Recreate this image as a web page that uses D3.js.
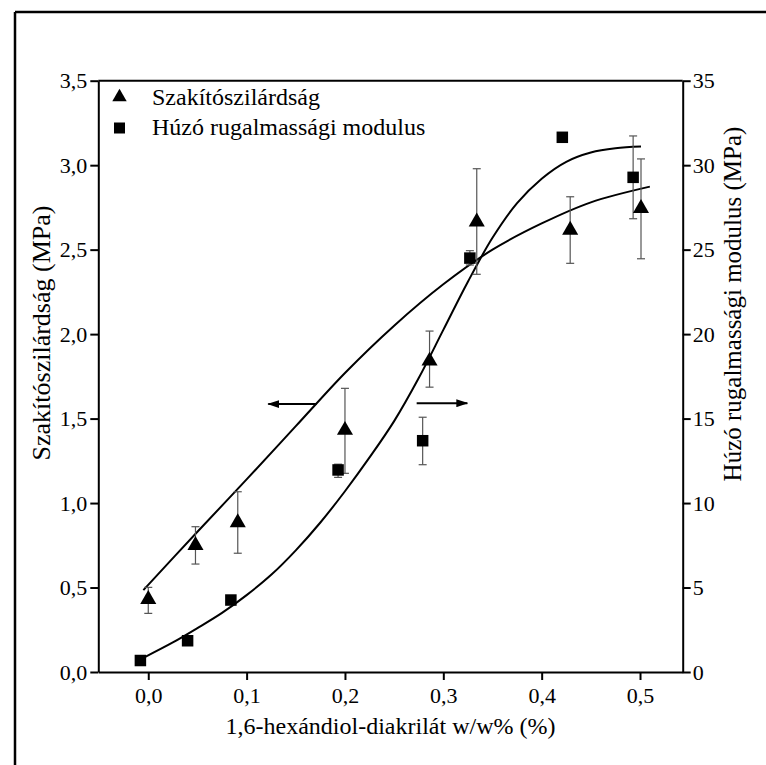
<!DOCTYPE html>
<html>
<head>
<meta charset="utf-8">
<script src="https://cdn.jsdelivr.net/npm/d3@7"></script>
<style>
  html, body { margin: 0; padding: 0; background: #fff; }
  svg { display: block; }
  svg text { font-family: "Liberation Serif", "Times New Roman", Times; fill: #000; }
</style>
</head>
<body>
<svg id="chart" width="766" height="765"></svg>
<script>
// ---- Data ----
// Tensile strength (left axis, MPa) – triangles
const strengthX   = [0.000, 0.048, 0.091, 0.200, 0.286, 0.334, 0.429, 0.501];
const strengthY   = [0.436, 0.756, 0.890, 1.437, 1.847, 2.671, 2.622, 2.751];
const strengthErrLo = [0.347, 0.639, 0.703, 1.176, 1.686, 2.354, 2.419, 2.446];
const strengthErrHi = [0.501, 0.860, 1.067, 1.679, 2.018, 2.979, 2.813, 3.037];

// Tensile modulus (right axis, MPa) – squares
const modulusX   = [-0.008, 0.040, 0.084, 0.193, 0.279, 0.327, 0.421, 0.493];
const modulusY   = [0.68, 1.85, 4.26, 11.96, 13.69, 24.50, 31.65, 29.28];
const modulusErrLo = [null, null, null, 11.52, 12.27, 24.09, null, 26.83];
const modulusErrHi = [null, null, null, 12.30, 15.08, 24.94, null, 31.73];

// Fitted curves
const strengthFitX = [-0.005, 0.05, 0.10, 0.15, 0.20, 0.25, 0.30, 0.35, 0.40, 0.45, 0.51];
const strengthFitY = [0.485, 0.83, 1.14, 1.455, 1.77, 2.05, 2.295, 2.50, 2.655, 2.78, 2.873];
const modulusFitX = [-0.003, 0.025, 0.05, 0.075, 0.10, 0.125, 0.15, 0.175, 0.20, 0.225, 0.25, 0.275, 0.30, 0.325, 0.35, 0.375, 0.40, 0.425, 0.45, 0.475, 0.501];
const modulusFitY = [0.90, 1.75, 2.60, 3.50, 4.55, 5.75, 7.20, 8.85, 10.70, 12.70, 14.85, 17.40, 20.25, 23.10, 25.70, 27.75, 29.20, 30.20, 30.75, 31.00, 31.10];

// Axis ticks
const xTicks = [0.0, 0.1, 0.2, 0.3, 0.4, 0.5];
const yLeftTicks = [0.0, 0.5, 1.0, 1.5, 2.0, 2.5, 3.0, 3.5];
const yRightTicks = [0, 5, 10, 15, 20, 25, 30, 35];

// Annotation arrows (x from, x to, y on left axis)
const arrowFrom = [0.1712, 0.2729];
const arrowTo   = [0.1220, 0.3244];
const arrowY    = [1.586, 1.591];

// Texts
const xTitle = "1,6-hexándiol-diakrilát w/w% (%)";
const yLeftTitle = "Szakítószilárdság (MPa)";
const yRightTitle = "Húzó rugalmassági modulus (MPa)";
const legendLabels = ["Szakítószilárdság", "Húzó rugalmassági modulus"];

// ---- Layout ----
const FONT = '"Liberation Serif", "Times New Roman", Times';
const svg = d3.select("#chart");
const L = 98.3, R = 682.7, T = 80.7, B = 672;
const fmt = d => d3.format(".1f")(d).replace(".", ",");

const x = d3.scaleLinear().domain([-0.0508, 0.5434]).range([L, R]);
const yL = d3.scaleLinear().domain([0, 3.5]).range([B, T]);
const yR = d3.scaleLinear().domain([0, 35]).range([B, T]);

// Outer frame (top & left only visible)
svg.append("line").attr("x1", 15).attr("y1", 12).attr("x2", 766).attr("y2", 12)
  .attr("stroke", "#000").attr("stroke-width", 2.5);
svg.append("line").attr("x1", 15).attr("y1", 12).attr("x2", 15).attr("y2", 765)
  .attr("stroke", "#000").attr("stroke-width", 2.5);

// Axes
const axStyle = g => {
  g.attr("font-family", FONT).attr("font-size", 22);
  g.selectAll("path").attr("stroke", "#000").attr("stroke-width", 2);
  g.selectAll("line").attr("stroke", "#000").attr("stroke-width", 2);
  g.selectAll("text").attr("font-family", FONT).attr("font-size", 22).attr("fill", "#000");
};
svg.append("g").attr("transform", `translate(0,${B})`)
  .call(d3.axisBottom(x).tickValues(xTicks).tickFormat(fmt).tickSizeOuter(0).tickSizeInner(8).tickPadding(7))
  .call(axStyle);
svg.append("g").attr("transform", `translate(${L},0)`)
  .call(d3.axisLeft(yL).tickValues(yLeftTicks).tickFormat(fmt).tickSizeOuter(0).tickSizeInner(8).tickPadding(3))
  .call(axStyle);
svg.append("g").attr("transform", `translate(${R},0)`)
  .call(d3.axisRight(yR).tickValues(yRightTicks).tickFormat(d3.format("d")).tickSizeOuter(0).tickSizeInner(8).tickPadding(2))
  .call(axStyle);
// top line
svg.append("line").attr("x1", L).attr("x2", R).attr("y1", T).attr("y2", T)
  .attr("stroke", "#000").attr("stroke-width", 2);

// Axis titles
svg.append("text").attr("x", (L + R) / 2).attr("y", 734).attr("text-anchor", "middle")
  .attr("font-family", FONT).attr("font-size", 24).text(xTitle);
svg.append("text").attr("transform", "translate(50,333) rotate(-90)")
  .attr("text-anchor", "middle").attr("font-family", FONT).attr("font-size", 26).text(yLeftTitle);
svg.append("text").attr("transform", "translate(741,304) rotate(-90)")
  .attr("text-anchor", "middle").attr("font-family", FONT).attr("font-size", 25).text(yRightTitle);

// Fit curves
const sFit = strengthFitX.map((d, i) => [d, strengthFitY[i]]);
const mFit = modulusFitX.map((d, i) => [d, modulusFitY[i]]);
svg.append("path").datum(sFit)
  .attr("d", d3.line().x(d => x(d[0])).y(d => yL(d[1])).curve(d3.curveCatmullRom.alpha(0.5)))
  .attr("fill", "none").attr("stroke", "#000").attr("stroke-width", 2);
svg.append("path").datum(mFit)
  .attr("d", d3.line().x(d => x(d[0])).y(d => yR(d[1])).curve(d3.curveCatmullRom.alpha(0.5)))
  .attr("fill", "none").attr("stroke", "#000").attr("stroke-width", 2);

// Error bars
function errBars(xs, lo, hi, yScale) {
  const g = svg.append("g").attr("stroke", "#555").attr("stroke-width", 1.2);
  xs.forEach((xv, i) => {
    if (lo[i] == null) return;
    const cx = x(xv);
    g.append("line").attr("x1", cx).attr("x2", cx).attr("y1", yScale(lo[i])).attr("y2", yScale(hi[i]));
    g.append("line").attr("x1", cx - 4).attr("x2", cx + 4).attr("y1", yScale(lo[i])).attr("y2", yScale(lo[i]));
    g.append("line").attr("x1", cx - 4).attr("x2", cx + 4).attr("y1", yScale(hi[i])).attr("y2", yScale(hi[i]));
  });
}
errBars(strengthX, strengthErrLo, strengthErrHi, yL);
errBars(modulusX, modulusErrLo, modulusErrHi, yR);

// Markers
const tri = d3.symbol().type(d3.symbolTriangle).size(112);
const sq = 11.5;
svg.append("g").selectAll("path").data(strengthX).join("path")
  .attr("d", tri)
  .attr("transform", (d, i) => `translate(${x(d)},${yL(strengthY[i]) + 1})`)
  .attr("fill", "#000");
svg.append("g").selectAll("rect").data(modulusX).join("rect")
  .attr("x", d => x(d) - sq / 2)
  .attr("y", (d, i) => yR(modulusY[i]) - sq / 2)
  .attr("width", sq).attr("height", sq).attr("fill", "#000");

// Arrows
const defs = svg.append("defs");
defs.append("marker").attr("id", "ah").attr("viewBox", "0 0 12 8")
  .attr("refX", 11).attr("refY", 4).attr("markerWidth", 12).attr("markerHeight", 8)
  .attr("markerUnits", "userSpaceOnUse").attr("orient", "auto")
  .append("path").attr("d", "M0,0 L12,4 L0,8 Z").attr("fill", "#000");
arrowFrom.forEach((xf, i) => {
  svg.append("line")
    .attr("x1", x(xf)).attr("x2", x(arrowTo[i]))
    .attr("y1", yL(arrowY[i])).attr("y2", yL(arrowY[i]))
    .attr("stroke", "#000").attr("stroke-width", 2)
    .attr("marker-end", "url(#ah)");
});

// Legend
const lg = svg.append("g");
lg.append("path").attr("d", d3.symbol().type(d3.symbolTriangle).size(90)).attr("transform", "translate(119.5,97)").attr("fill", "#000");
lg.append("rect").attr("x", 114).attr("y", 122.5).attr("width", 11).attr("height", 11).attr("fill", "#000");
lg.append("text").attr("x", 152).attr("y", 105).attr("font-family", FONT).attr("font-size", 24).text(legendLabels[0]);
lg.append("text").attr("x", 152).attr("y", 135).attr("font-family", FONT).attr("font-size", 24).text(legendLabels[1]);
</script>
</body>
</html>
